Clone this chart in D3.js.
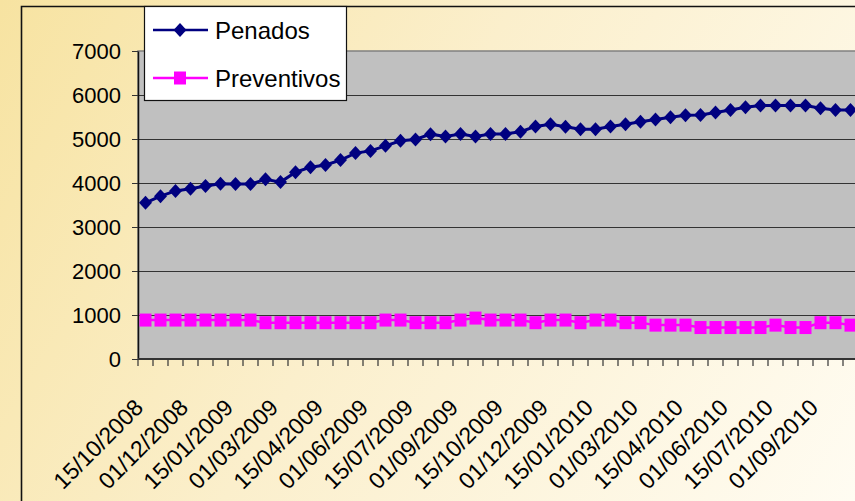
<!DOCTYPE html>
<html>
<head>
<meta charset="utf-8">
<script src="https://cdn.jsdelivr.net/npm/d3@7"></script>
<style>
  html, body { margin: 0; padding: 0; overflow: hidden; }
  svg { display: block; }
</style>
</head>
<body>
<div id="chart"></div>
<script>
// semi-monthly reporting dates
const categories = [
  "15/10/2008", "01/11/2008", "15/11/2008", "01/12/2008", "15/12/2008", "01/01/2009",
  "15/01/2009", "01/02/2009", "15/02/2009", "01/03/2009", "15/03/2009", "01/04/2009",
  "15/04/2009", "01/05/2009", "15/05/2009", "01/06/2009", "15/06/2009", "01/07/2009",
  "15/07/2009", "01/08/2009", "15/08/2009", "01/09/2009", "15/09/2009", "01/10/2009",
  "15/10/2009", "01/11/2009", "15/11/2009", "01/12/2009", "15/12/2009", "01/01/2010",
  "15/01/2010", "01/02/2010", "15/02/2010", "01/03/2010", "15/03/2010", "01/04/2010",
  "15/04/2010", "01/05/2010", "15/05/2010", "01/06/2010", "15/06/2010", "01/07/2010",
  "15/07/2010", "01/08/2010", "15/08/2010", "01/09/2010", "15/09/2010", "01/10/2010"
];

const penados = [
  3550, 3700, 3820, 3870, 3930, 3985, 3975, 3975, 4085, 4020, 4245, 4360,
  4410, 4520, 4680, 4730, 4845, 4960, 4990, 5110, 5055, 5115, 5055, 5115,
  5115, 5165, 5285, 5335, 5280, 5220, 5220, 5285, 5335, 5390, 5445, 5495,
  5540, 5545, 5600, 5660, 5720, 5760, 5760, 5760, 5760, 5700, 5660, 5660
];

const preventivos = [
  885, 885, 885, 885, 885, 885, 885, 885, 825, 825, 825, 825,
  825, 825, 825, 825, 885, 885, 825, 825, 825, 885, 930, 885,
  885, 885, 825, 885, 885, 825, 885, 885, 825, 825, 770, 770,
  770, 715, 715, 715, 715, 715, 770, 715, 715, 825, 825, 770
];

const yTicks = [0, 1000, 2000, 3000, 4000, 5000, 6000, 7000];
const seriesNames = ["Penados", "Preventivos"];

const W = 855, H = 501;
const plot = { left: 138, top: 51, right: 858, bottom: 359 };
const navy = "#000080";
const magenta = "#ff00ff";
const font = "'Liberation Sans', Arial, sans-serif";

const svg = d3.select("#chart").append("svg")
  .attr("width", W)
  .attr("height", H)
  .style("font-family", font);

const defs = svg.append("defs");
const grad = defs.append("linearGradient")
  .attr("id", "bg")
  .attr("gradientUnits", "userSpaceOnUse")
  .attr("x1", 0).attr("y1", 0)
  .attr("x2", W).attr("y2", H);
grad.append("stop").attr("offset", "0%").attr("stop-color", "#f7e3a1");
grad.append("stop").attr("offset", "45%").attr("stop-color", "#fbefcc");
grad.append("stop").attr("offset", "100%").attr("stop-color", "#fffcf2");

svg.append("rect").attr("width", W).attr("height", H).attr("fill", "url(#bg)");

// chart area border (runs off the right and bottom)
svg.append("path")
  .attr("d", `M21.5,${H + 5}V6.5H${W + 5}`)
  .attr("fill", "none")
  .attr("stroke", "#111")
  .attr("stroke-width", 1.6);

const x = d3.scaleBand().domain(categories).range([plot.left, plot.right]).padding(0);
const y = d3.scaleLinear().domain([0, 7000]).range([plot.bottom, plot.top]);
const cx = (c) => x(c) + x.bandwidth() / 2;

svg.append("rect")
  .attr("x", plot.left)
  .attr("y", plot.top)
  .attr("width", plot.right - plot.left)
  .attr("height", plot.bottom - plot.top)
  .attr("fill", "#c0c0c0")
  .attr("stroke", "#808080")
  .attr("stroke-width", 1.5);

// gridlines
svg.append("g")
  .selectAll("line")
  .data(yTicks.filter((d) => d > 0 && d < 7000))
  .join("line")
  .attr("x1", plot.left)
  .attr("x2", plot.right)
  .attr("y1", (d) => Math.round(y(d)) + 0.5)
  .attr("y2", (d) => Math.round(y(d)) + 0.5)
  .attr("stroke", "#333")
  .attr("stroke-width", 1.2);

// y axis
const yAxis = svg.append("g")
  .attr("transform", `translate(${plot.left},0)`)
  .call(d3.axisLeft(y).tickValues(yTicks).tickFormat(d3.format("d"))
    .tickSize(6).tickPadding(11).tickSizeOuter(0));
yAxis.select(".domain").attr("stroke", "#111").attr("stroke-width", 1.5);
yAxis.selectAll(".tick line").attr("stroke", "#333");
yAxis.selectAll(".tick text")
  .attr("font-size", "22px")
  .attr("font-family", font)
  .attr("fill", "#000");

// x axis: ticks sit between categories
svg.append("line")
  .attr("x1", plot.left).attr("x2", plot.right)
  .attr("y1", plot.bottom).attr("y2", plot.bottom)
  .attr("stroke", "#333").attr("stroke-width", 2);

const edges = categories.map((c) => x(c)).concat([x.range()[1]]);
svg.append("g")
  .selectAll("line")
  .data(edges)
  .join("line")
  .attr("x1", (d) => d).attr("x2", (d) => d)
  .attr("y1", plot.bottom).attr("y2", plot.bottom + 7)
  .attr("stroke", "#333")
  .attr("stroke-width", 1.2);

svg.append("g")
  .selectAll("text")
  .data(categories.filter((c, i) => i % 3 === 0))
  .join("text")
  .attr("transform", (c) => `translate(${cx(c) - 1},${plot.bottom + 50}) rotate(-45)`)
  .attr("text-anchor", "end")
  .attr("font-size", "23px")
  .attr("fill", "#000")
  .text((c) => c);

// series
const diamond = "M0,-7L6.5,0L0,7L-6.5,0Z";

function drawSeries(values, color, width, marker) {
  const pts = values.map((v, i) => [cx(categories[i]), y(v)]);
  svg.append("path")
    .datum(pts)
    .attr("fill", "none")
    .attr("stroke", color)
    .attr("stroke-width", width)
    .attr("d", d3.line());
  const g = svg.append("g");
  if (marker === "diamond") {
    g.selectAll("path")
      .data(pts)
      .join("path")
      .attr("d", diamond)
      .attr("transform", (d) => `translate(${d[0]},${d[1]})`)
      .attr("fill", color);
  } else {
    g.selectAll("rect")
      .data(pts)
      .join("rect")
      .attr("x", (d) => d[0] - 6)
      .attr("y", (d) => d[1] - 6.5)
      .attr("width", 12)
      .attr("height", 13)
      .attr("fill", color);
  }
}

drawSeries(penados, navy, 3, "diamond");
drawSeries(preventivos, magenta, 2.5, "square");

// legend
const legend = svg.append("g");
legend.append("rect")
  .attr("x", 144.5).attr("y", 6.5)
  .attr("width", 202).attr("height", 94)
  .attr("fill", "#fff")
  .attr("stroke", "#111")
  .attr("stroke-width", 1.2);

const legendRows = [
  { name: seriesNames[0], color: navy, marker: "diamond", y: 30 },
  { name: seriesNames[1], color: magenta, marker: "square", y: 78 }
];
legendRows.forEach((r) => {
  legend.append("line")
    .attr("x1", 153).attr("x2", 208)
    .attr("y1", r.y).attr("y2", r.y)
    .attr("stroke", r.color)
    .attr("stroke-width", 2.5);
  if (r.marker === "diamond") {
    legend.append("path")
      .attr("d", diamond)
      .attr("transform", `translate(180,${r.y})`)
      .attr("fill", r.color);
  } else {
    legend.append("rect")
      .attr("x", 174).attr("y", r.y - 6.5)
      .attr("width", 12).attr("height", 13)
      .attr("fill", r.color);
  }
  legend.append("text")
    .attr("x", 215)
    .attr("y", r.y)
    .attr("dy", "0.36em")
    .attr("font-size", "24px")
    .attr("fill", "#000")
    .text(r.name);
});
</script>
</body>
</html>
